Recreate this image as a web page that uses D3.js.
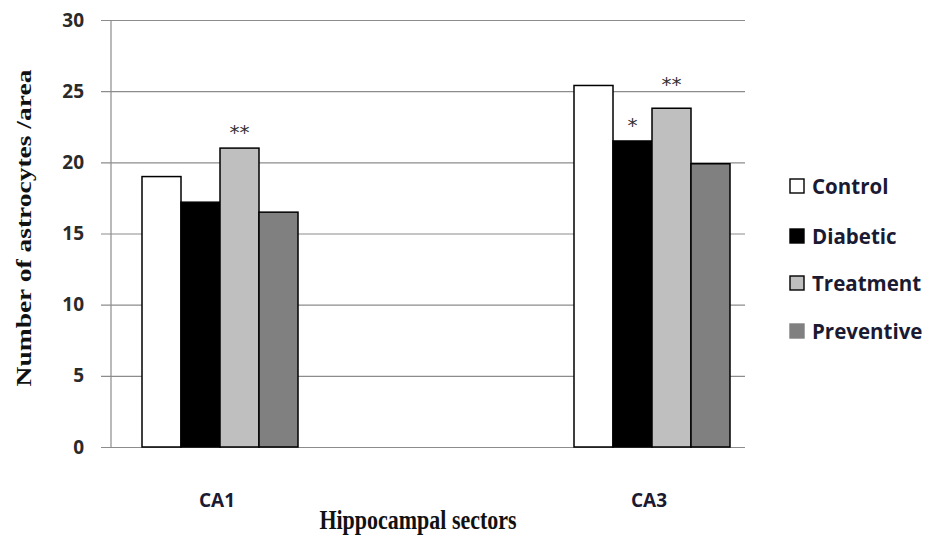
<!DOCTYPE html>
<html>
<head>
  <meta charset="utf-8">
  <script src="https://d3js.org/d3.v7.min.js"></script>
  <style>
    body { margin: 0; background: #fff; }
    .tick text { font-family: "Open Sans", sans-serif; font-weight: bold; }
  </style>
</head>
<body>
  <div id="chart"></div>
  <script type="text/javascript">
  // data
  var sectors = ["CA1", "CA3"];
  var groups = ["Control", "Diabetic", "Treatment", "Preventive"];
  var control = [19.0, 25.4];
  var diabetic = [17.2, 21.5];
  var treatment = [21.0, 23.8];
  var preventive = [16.5, 19.9];
  var marks = [["", "", "**", ""], ["", "*", "**", ""]];
  var yTicks = [0, 5, 10, 15, 20, 25, 30];

  var colors = ["#ffffff", "#000000", "#bfbfbf", "#808080"];
  var series = [control, diabetic, treatment, preventive];

  var W = 932, H = 537;
  var plotL = 111, plotR = 745, plotT = 20, plotB = 447;

  var svg = d3.select("#chart").append("svg")
      .attr("width", W)
      .attr("height", H);

  var y = d3.scaleLinear().domain([0, 30]).range([plotB, plotT]);
  var x0 = d3.scalePoint().domain(sectors).range([220, 652]);
  var x1 = d3.scaleBand().domain(groups).range([-78, 78]);

  // gridlines + ticks
  var yAxis = d3.axisLeft(y).tickValues(yTicks)
      .tickSize(-(plotR - plotL + 10)).tickPadding(17);
  var ga = svg.append("g")
      .attr("transform", "translate(" + (plotL - 10) + ",0)")
      .call(yAxis);
  ga.select(".domain").remove();
  ga.selectAll(".tick line").attr("stroke", "#8c8c8c").attr("stroke-width", 1.2);
  ga.selectAll(".tick text").attr("font-size", 19).attr("fill", "#2a2a2a");

  svg.append("line")
      .attr("x1", plotL).attr("x2", plotL)
      .attr("y1", plotT).attr("y2", plotB)
      .attr("stroke", "#8c8c8c").attr("stroke-width", 1.2);

  // bars
  sectors.forEach(function(s, i) {
    var g = svg.append("g").attr("transform", "translate(" + x0(s) + ",0)");
    g.selectAll("rect")
        .data(groups)
      .enter().append("rect")
        .attr("x", function(d) { return x1(d); })
        .attr("width", x1.bandwidth())
        .attr("y", function(d, j) { return y(series[j][i]); })
        .attr("height", function(d, j) { return plotB - y(series[j][i]); })
        .attr("fill", function(d, j) { return colors[j]; })
        .attr("stroke", "#000")
        .attr("stroke-width", 1.5);

    g.selectAll("text.mark")
        .data(groups)
      .enter().append("text")
        .attr("class", "mark")
        .attr("x", function(d) { return x1(d) + x1.bandwidth() / 2; })
        .attr("y", function(d, j) {
          // the CA3 "**" sits a little higher than the others
          var lift = (i === 1 && j === 2) ? 17 : 9;
          return y(series[j][i]) - lift;
        })
        .attr("text-anchor", "middle")
        .attr("font-family", "'DejaVu Sans', sans-serif")
        .attr("font-size", 20)
        .attr("fill", "#333")
        .text(function(d, j) { return marks[i][j]; });

    svg.append("text")
        .attr("x", x0(s) - 3)
        .attr("y", 507)
        .attr("text-anchor", "middle")
        .attr("font-family", "'Open Sans', sans-serif")
        .attr("font-weight", "bold")
        .attr("font-size", 19)
        .attr("fill", "#1a1a33")
        .text(s);
  });

  // axis titles
  svg.append("text")
      .attr("transform", "translate(31,228) rotate(-90) scale(1.25,1)")
      .attr("text-anchor", "middle")
      .attr("font-family", "'Liberation Serif', 'Times New Roman', serif")
      .attr("font-weight", "bold")
      .attr("font-size", 22)
      .attr("fill", "#111")
      .text("Number of astrocytes /area");

  svg.append("text")
      .attr("transform", "translate(418,529) scale(1,1.2)")
      .attr("text-anchor", "middle")
      .attr("font-family", "'Liberation Serif', 'Times New Roman', serif")
      .attr("font-weight", "bold")
      .attr("font-size", 22)
      .attr("fill", "#111")
      .text("Hippocampal sectors");

  // legend
  var legendY = [186, 236, 283, 331];
  var lg = svg.append("g");
  groups.forEach(function(d, j) {
    lg.append("rect")
        .attr("x", 790).attr("y", legendY[j] - 7)
        .attr("width", 14).attr("height", 14)
        .attr("fill", colors[j])
        .attr("stroke", j === 3 ? "#808080" : "#000")
        .attr("stroke-width", 1.4);
    lg.append("text")
        .attr("x", 812).attr("y", legendY[j] + 7.5)
        .attr("font-family", "'Open Sans', sans-serif")
        .attr("font-weight", "bold")
        .attr("font-size", 20.5)
        .attr("fill", "#1a1a33")
        .text(d);
  });
  </script>
</body>
</html>
